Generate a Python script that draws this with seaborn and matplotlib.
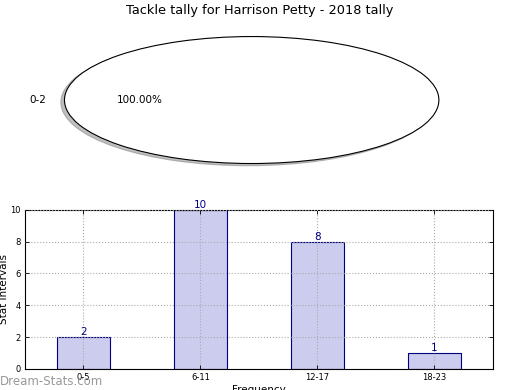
import matplotlib
matplotlib.use("Agg")
import matplotlib.pyplot as plt
import seaborn as sns

pie_labels = ["0-2"]
pie_values = [100.0]
categories = ["0-5", "6-11", "12-17", "18-23"]
counts = [2, 10, 8, 1]
title = "Tackle tally for Harrison Petty - 2018 tally"

sns.set_style("white")
plt.rcParams['font.family'] = ['DejaVu Sans']
plt.rcParams['text.color'] = 'black'
plt.rcParams['axes.labelcolor'] = 'black'
plt.rcParams['xtick.color'] = 'black'
plt.rcParams['ytick.color'] = 'black'

fig = plt.figure(figsize=(5.2, 3.9), dpi=100)

ax1 = fig.add_axes([0.034, 0.54, 0.90, 0.407])
ax1.pie(pie_values, labels=pie_labels, autopct="%.2f%%",
        shadow=dict(ox=-0.014, oy=-0.025, shade=0.5),
        wedgeprops=dict(edgecolor="black", linewidth=0.8, facecolor="white"),
        textprops=dict(fontsize=7.5, color="black"))
ax1.set_aspect("auto")
ax1.set_xlim(-1.25, 1.25)
ax1.set_ylim(-1.25, 1.25)
fig.text(0.5, 0.972, title, ha="center", va="center", fontsize=9.3, color="black")

ax2 = fig.add_axes([0.048, 0.054, 0.9, 0.408])
sns.barplot(x=categories, y=counts, ax=ax2, color="#ccccee", saturation=1,
            width=0.45, edgecolor="navy", linewidth=0.8, zorder=2)
ax2.set_xlim(-0.5, 3.5)
ax2.set_ylim(0, 10)
ax2.set_yticks([0, 2, 4, 6, 8, 10])
ax2.grid(True, linestyle=":", color="#aaaaaa", linewidth=0.8, zorder=0)
ax2.set_axisbelow(False)
for s in ax2.spines.values():
    s.set_color("black")
    s.set_linewidth(0.8)
ax2.tick_params(axis="both", labelsize=6, direction="in", length=3, width=0.6,
                top=True, right=True, bottom=True, left=True, pad=3)
for i, v in enumerate(counts):
    ax2.text(i, v, str(v), ha="center", va="bottom", fontsize=7.5, color="navy")
ax2.set_ylabel("Stat Intervals", fontsize=7.5)
ax2.yaxis.set_label_coords(-0.034, 0.5)
ax2.set_xlabel("Frequency", fontsize=7.5, labelpad=2)

fig.text(0.0, 0.022, "Dream-Stats.com", ha="left", va="center", fontsize=8.5,
         color="#999999")

fig.savefig("out.png", dpi=100)
